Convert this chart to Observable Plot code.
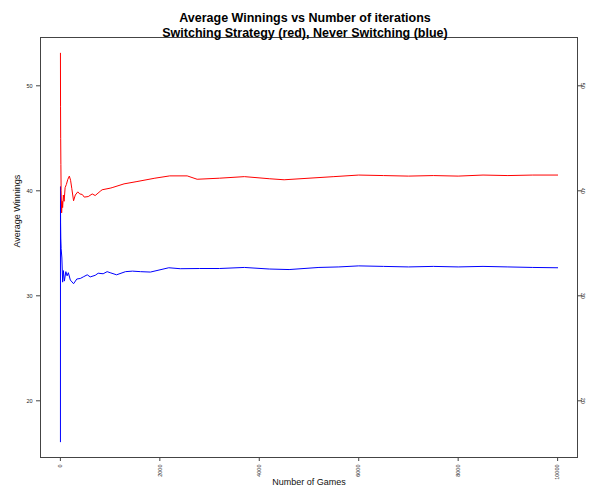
<!DOCTYPE html>
<html>
<head>
<meta charset="utf-8">
<script src="https://cdn.jsdelivr.net/npm/d3@7"></script>
<script src="https://cdn.jsdelivr.net/npm/@observablehq/plot@0.6"></script>
<style>
  html, body { margin: 0; padding: 0; background: white; }
</style>
</head>
<body>
<div id="chart"></div>
<script>
const titleLines = ["Average Winnings vs Number of iterations", "Switching Strategy (red), Never Switching (blue)"];
const xLabel = "Number of Games";
const yLabel = "Average Winnings";
const xTicks = [0, 2000, 4000, 6000, 8000, 10000];
const yTicks = [20, 30, 40, 50];

// Switching strategy (red): running average of winnings
const redGames = [1, 3, 6, 10, 15, 25, 35, 45, 60, 75, 95, 120, 150, 180, 205, 230, 265, 300, 350, 390, 440, 480, 560, 640, 700, 800, 840, 1000, 1040, 1280, 1540, 1900, 2200, 2550, 2750, 3200, 3700, 4200, 4500, 5000, 5500, 6000, 6500, 7000, 7500, 8000, 8500, 9000, 9500, 10000];
const redValues = [53.1, 48, 45, 42.5, 40, 37.9, 39.0, 38.4, 39.6, 39.0, 40.3, 40.6, 41.1, 41.4, 41.0, 40.2, 39.05, 39.6, 39.9, 39.7, 39.65, 39.4, 39.45, 39.7, 39.55, 39.95, 40.1, 40.25, 40.3, 40.66, 40.88, 41.2, 41.42, 41.42, 41.1, 41.2, 41.35, 41.15, 41.05, 41.2, 41.35, 41.5, 41.45, 41.4, 41.45, 41.4, 41.5, 41.45, 41.5, 41.5];

// Never switching (blue)
const blueGames = [1, 2, 4, 8, 15, 30, 45, 60, 80, 110, 135, 160, 200, 265, 330, 400, 460, 540, 600, 700, 760, 860, 940, 1000, 1130, 1310, 1450, 1610, 1810, 2180, 2410, 2800, 3200, 3700, 4200, 4600, 5200, 5600, 6000, 6500, 7000, 7500, 8000, 8500, 9000, 9500, 10000];
const blueValues = [16.1, 40.4, 37, 35.5, 34.5, 33.6, 31.3, 32.4, 31.4, 32.3, 31.9, 32.2, 31.5, 31.15, 31.6, 31.65, 31.8, 32.0, 31.8, 31.95, 32.15, 32.1, 32.3, 32.2, 32.0, 32.3, 32.35, 32.3, 32.26, 32.67, 32.58, 32.6, 32.6, 32.7, 32.55, 32.5, 32.7, 32.75, 32.85, 32.8, 32.75, 32.8, 32.75, 32.8, 32.75, 32.7, 32.67];

const red = redGames.map((g, i) => ({g, v: redValues[i]}));
const blue = blueGames.map((g, i) => ({g, v: blueValues[i]}));

const axisColor = "#444";
const plain = d => String(d);

const chart = Plot.plot({
  width: 589,
  height: 485,
  marginLeft: 40,
  marginRight: 12,
  marginTop: 37,
  marginBottom: 28,
  style: {fontFamily: "'Liberation Sans', Arial, Helvetica, sans-serif", background: "white", color: "#222"},
  x: {domain: [-400, 10400], label: null},
  y: {domain: [14.6, 54.6], label: null},
  marks: [
    Plot.line(blue, {x: "g", y: "v", stroke: "#0000ff", strokeWidth: 1}),
    Plot.line(red, {x: "g", y: "v", stroke: "#ff0000", strokeWidth: 1}),
    Plot.frame({stroke: axisColor, strokeWidth: 1}),
    Plot.axisX(xTicks, {anchor: "bottom", tickSize: 4, tickPadding: 3, tickRotate: -90, fontSize: 5.5, stroke: axisColor, tickFormat: plain, label: null}),
    Plot.axisY(yTicks, {anchor: "left", tickSize: 4, tickPadding: 4, fontSize: 5.5, stroke: axisColor, tickFormat: plain, label: null}),
    Plot.axisY(yTicks, {anchor: "right", tickSize: 4, tickPadding: 3, tickRotate: 90, fontSize: 5.5, stroke: axisColor, tickFormat: plain, label: null}),
    Plot.text([xLabel], {frameAnchor: "bottom", dy: 27, lineAnchor: "bottom", fontSize: 9, fill: "#111"}),
    Plot.text([yLabel], {frameAnchor: "left", dx: -23, rotate: -90, fontSize: 9, fill: "#111"}),
    Plot.text([titleLines[0]], {frameAnchor: "top", dx: -4, dy: -16, lineAnchor: "bottom", fontSize: 12.5, fontWeight: "bold", fill: "#000"}),
    Plot.text([titleLines[1]], {frameAnchor: "top", dx: -4, dy: -1, lineAnchor: "bottom", fontSize: 12.5, fontWeight: "bold", fill: "#000"})
  ]
});
document.getElementById("chart").appendChild(chart);
</script>
</body>
</html>
